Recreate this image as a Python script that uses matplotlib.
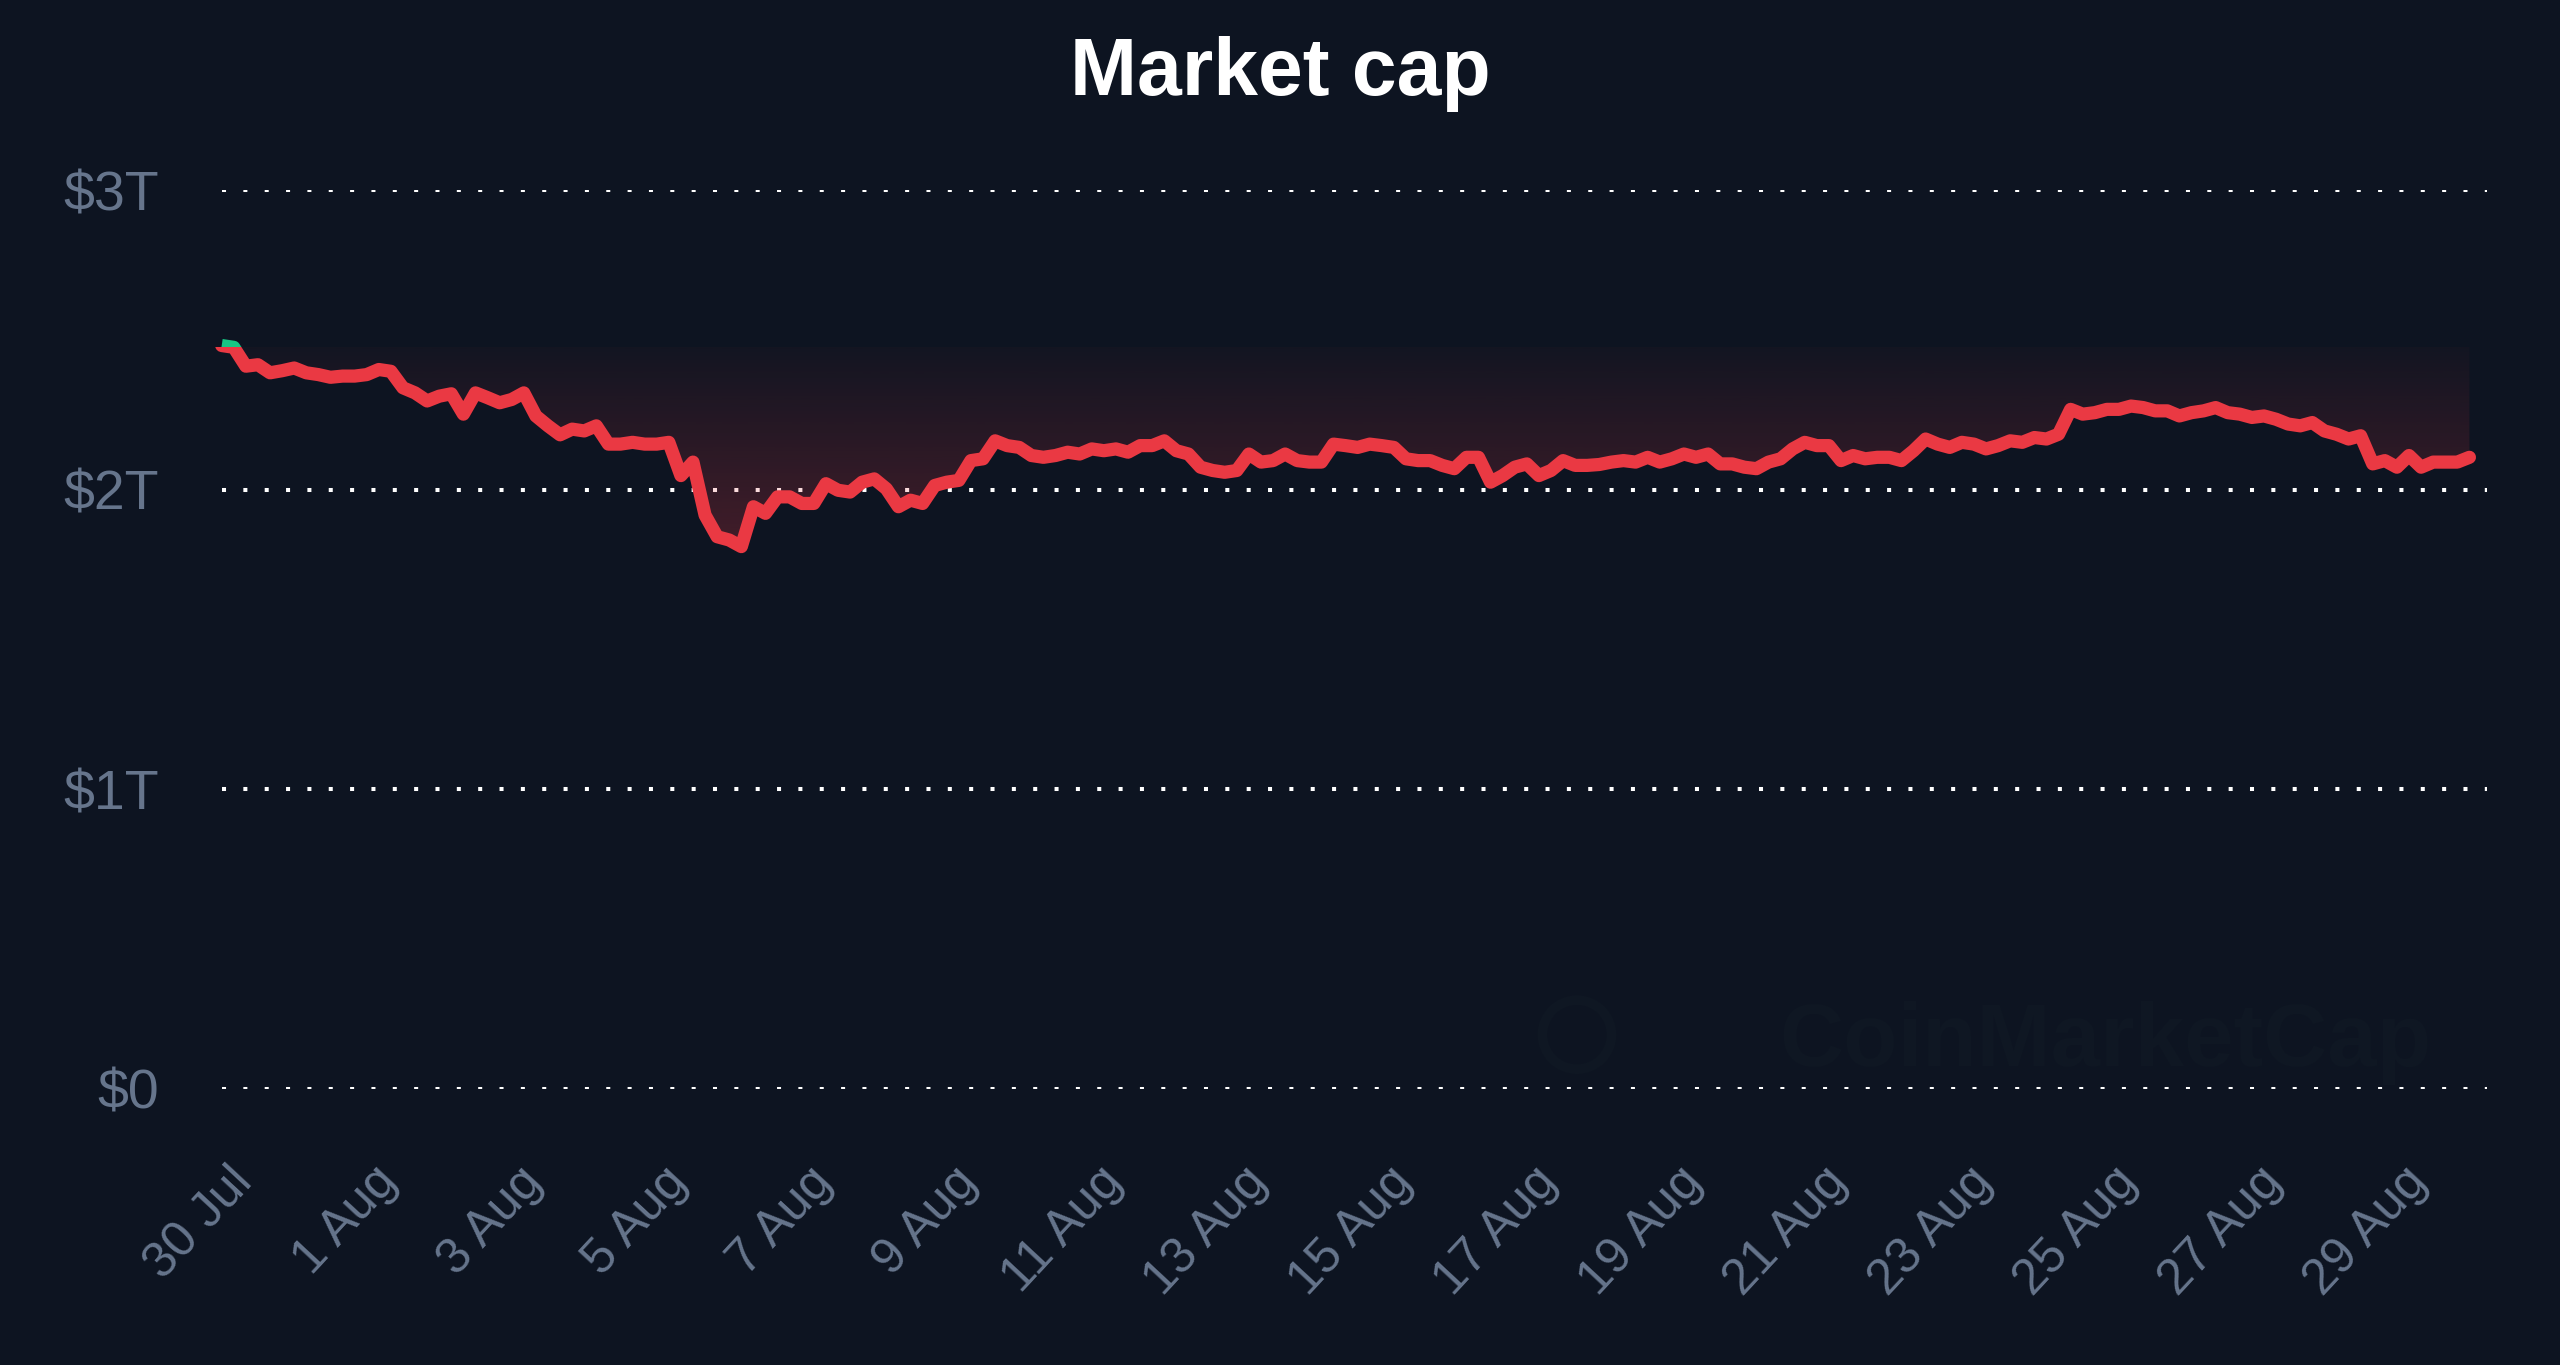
import numpy as np
import pandas as pd
import matplotlib
matplotlib.use("Agg")
import matplotlib.pyplot as plt
import matplotlib.dates as mdates
from matplotlib.patches import Rectangle, Ellipse

plt.rcParams['font.family'] = ['Liberation Sans', 'DejaVu Sans']
plt.rcParams['text.parse_math'] = False

# market cap in trillions USD, one reading every 4 hours
start = "2024-07-29 22:00"
market_cap = [
    2.481, 2.475, 2.412, 2.417, 2.390, 2.397,
    2.406, 2.390, 2.384, 2.375, 2.379, 2.379,
    2.384, 2.401, 2.395, 2.340, 2.323, 2.296,
    2.312, 2.320, 2.252, 2.323, 2.307, 2.290,
    2.301, 2.323, 2.246, 2.213, 2.183, 2.202,
    2.196, 2.213, 2.152, 2.152, 2.158, 2.152,
    2.152, 2.158, 2.047, 2.092, 1.915, 1.843,
    1.832, 1.810, 1.943, 1.921, 1.976, 1.976,
    1.954, 1.954, 2.020, 1.998, 1.992, 2.025,
    2.036, 2.003, 1.943, 1.965, 1.954, 2.014,
    2.025, 2.031, 2.097, 2.103, 2.163, 2.147,
    2.141, 2.114, 2.108, 2.114, 2.125, 2.119,
    2.136, 2.130, 2.136, 2.125, 2.147, 2.147,
    2.163, 2.130, 2.119, 2.075, 2.064, 2.058,
    2.064, 2.119, 2.092, 2.097, 2.119, 2.097,
    2.092, 2.092, 2.152, 2.147, 2.141, 2.152,
    2.147, 2.141, 2.103, 2.097, 2.097, 2.081,
    2.070, 2.108, 2.108, 2.025, 2.047, 2.075,
    2.086, 2.047, 2.064, 2.097, 2.081, 2.081,
    2.084, 2.092, 2.097, 2.092, 2.108, 2.092,
    2.103, 2.119, 2.108, 2.119, 2.086, 2.086,
    2.075, 2.070, 2.092, 2.103, 2.136, 2.158,
    2.147, 2.147, 2.097, 2.114, 2.103, 2.108,
    2.108, 2.097, 2.130, 2.169, 2.152, 2.141,
    2.158, 2.152, 2.136, 2.147, 2.163, 2.158,
    2.174, 2.169, 2.185, 2.268, 2.252, 2.257,
    2.268, 2.268, 2.279, 2.274, 2.263, 2.263,
    2.246, 2.257, 2.263, 2.274, 2.257, 2.252,
    2.241, 2.246, 2.235, 2.219, 2.213, 2.224,
    2.196, 2.185, 2.169, 2.180, 2.086, 2.097,
    2.075, 2.114, 2.075, 2.092, 2.092, 2.092,
    2.108,
]

tick_labels = ["30 Jul", "1 Aug", "3 Aug", "5 Aug", "7 Aug", "9 Aug", "11 Aug",
               "13 Aug", "15 Aug", "17 Aug", "19 Aug", "21 Aug", "23 Aug",
               "25 Aug", "27 Aug", "29 Aug"]
y_ticks = [0, 1, 2, 3]
y_labels = ["$0", "$1T", "$2T", "$3T"]

bg = "#0d1421"
red = "#ea3943"
green = "#16c784"
label_col = "#66758c"

times = pd.date_range(start, periods=len(market_cap), freq="4h")
x = mdates.date2num(times)
y = np.array(market_cap)
base = y[0] - 0.005

fig = plt.figure(figsize=(25.6, 13.65), dpi=100, facecolor=bg)
ax = fig.add_axes([0.0866, 0.2022, 0.8848, 0.6586])
ax.set_facecolor(bg)

x_left = mdates.date2num(pd.Timestamp(start))
x_right = mdates.date2num(pd.Timestamp("2024-08-30 03:45"))
ax.set_xlim(x_left, x_right)
ax.set_ylim(0, 3)

for v in y_ticks:
    ax.axhline(v, color="white", lw=2.9, linestyle=(0, (1, 4.3)),
               dash_capstyle="butt", zorder=1)

# gradient fill between the threshold (first value) and the line
poly = ax.fill_between(x, y, base, color="none", lw=0)
grad = np.zeros((256, 1, 4))
grad[:, 0, :3] = matplotlib.colors.to_rgb(red)
grad[:, 0, 3] = np.linspace(0.03, 0.26, 256)
img = ax.imshow(grad, aspect="auto", origin="upper",
                extent=(x[0], x[-1], y.min() - 0.05, base), zorder=2)
img.set_clip_path(poly.get_paths()[0], transform=ax.transData)

# line coloured by threshold: green above the first value, red below
red_line, = ax.plot(x, y, color=red, lw=9.5, solid_joinstyle="round",
                    solid_capstyle="round", zorder=3)
green_line, = ax.plot(x, y, color=green, lw=9.5, solid_joinstyle="round",
                      solid_capstyle="butt", zorder=4)
above = Rectangle((x_left - 5, base), 60, 5, transform=ax.transData)
below = Rectangle((x_left - 5, base - 5), 60, 5, transform=ax.transData)
green_line.set_clip_path(above)
red_line.set_clip_path(below)

for s in ax.spines.values():
    s.set_visible(False)

tick_times = pd.date_range("2024-07-30", periods=len(tick_labels), freq="2D")
ax.set_xticks(mdates.date2num(tick_times))
ax.set_xticklabels(tick_labels, rotation=47, ha="right", va="top",
                   rotation_mode="anchor", fontsize=36, color=label_col)
ax.set_yticks(y_ticks)
ax.set_yticklabels(y_labels, fontsize=40, color=label_col)
ax.tick_params(axis="x", length=0, pad=50)
ax.tick_params(axis="y", length=0, pad=45)

fig.text(0.5, 0.946, "Market cap", ha="center", va="center", fontsize=58,
         fontweight="bold", color="white")

# faint watermark
fig.patches.append(Ellipse((0.616, 0.242), 0.027, 0.0506, transform=fig.transFigure,
                           facecolor="none", edgecolor="#0f1723", lw=7, zorder=0))
fig.text(0.695, 0.236, "CoinMarketCap", ha="left", va="center", fontsize=64,
         fontweight="bold", color="#0f1723", zorder=0)

fig.savefig("out.png", dpi=100, facecolor=bg)
